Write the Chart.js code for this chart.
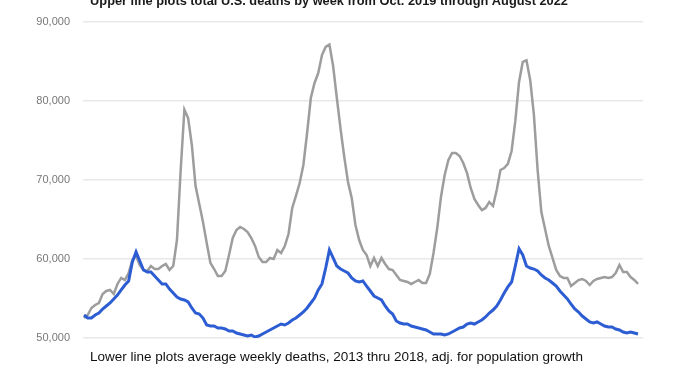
<!DOCTYPE html>
<html>
<head>
<meta charset="utf-8">
<title>U.S. weekly deaths</title>
<script src="https://cdn.jsdelivr.net/npm/chart.js@4.4.1/dist/chart.umd.min.js"></script>
<style>
  body { margin: 0; background: #fff; }
  canvas { display: block; }
</style>
</head>
<body>
<canvas id="deaths" width="678" height="381"></canvas>
<script>
// weekly death counts, Oct 2019 - Aug 2022
const topNote = 'Upper line plots total U.S. deaths by week from Oct. 2019 through August 2022';
const bottomNote = 'Lower line plots average weekly deaths, 2013 thru 2018, adj. for population growth';

const yTicks = [50000, 60000, 70000, 80000, 90000];

const totalDeaths = [
  52530, 52910, 53800, 54180, 54430, 55570, 55950, 56080, 55570, 56840,
  57600, 57340, 58230, 59870, 60380, 59240, 58610, 58480, 59110, 58730,
  58730, 59110, 59370, 58610, 59110, 62400, 71270, 78900, 77850, 74430,
  69240, 66960, 64680, 62030, 59490, 58730, 57850, 57850, 58480, 60510,
  62660, 63670, 64050, 63800, 63420, 62660, 61650, 60250, 59620, 59620,
  60130, 60000, 61140, 60760, 61650, 63160, 66460, 67980, 69620, 71900,
  75950, 80380, 82280, 83540, 85820, 86840, 87150, 84430, 80380, 76460,
  72910, 69750, 67720, 64300, 62400, 61140, 60510, 59110, 60130, 59110,
  60130, 59370, 58730, 58610, 57980, 57340, 57220, 57090, 56840, 57090,
  57340, 56960, 56960, 58100, 60760, 63920, 67850, 70630, 72530, 73420,
  73420, 73040, 72150, 70890, 68990, 67600, 66840, 66200, 66460, 67220,
  66710, 68730, 71270, 71520, 72030, 73670, 77470, 82410, 84940, 85150,
  82660, 78230, 71270, 65950, 63800, 61650, 60130, 58610, 57850, 57600,
  57600, 56580, 56960, 57340, 57470, 57220, 56710, 57220, 57470, 57600,
  57720, 57600, 57720, 58230, 59240, 58350, 58350, 57720, 57340, 56840
];

const baselineDeaths = [
  52910, 52530, 52530, 52910, 53160, 53670, 54050, 54430, 54940, 55440,
  56080, 56710, 57220, 59620, 60890, 59750, 58610, 58350, 58350, 57850,
  57340, 56840, 56840, 56200, 55700, 55190, 54940, 54810, 54560, 53800,
  53160, 53040, 52530, 51650, 51520, 51520, 51270, 51270, 51140, 50890,
  50890, 50630, 50510, 50380, 50250, 50380, 50130, 50250, 50510, 50760,
  51010, 51270, 51520, 51770, 51650, 51900, 52280, 52530, 52910, 53290,
  53800, 54430, 55060, 56080, 56840, 58860, 61150, 60130, 59110, 58730,
  58480, 58230, 57600, 57220, 57090, 57220, 56580, 55950, 55320, 55060,
  54810, 54050, 53420, 53040, 52150, 51900, 51770, 51770, 51520, 51390,
  51270, 51140, 51010, 50760, 50510, 50510, 50510, 50380, 50510, 50760,
  51010, 51270, 51390, 51770, 51900, 51770, 52030, 52280, 52660, 53160,
  53540, 54050, 54810, 55700, 56460, 57090, 59110, 61300, 60510, 59110,
  58860, 58730, 58480, 57980, 57600, 57340, 56960, 56580, 55950, 55440,
  54940, 54300, 53670, 53290, 52780, 52410, 52030, 51900, 52030, 51770,
  51520, 51390, 51390, 51140, 51010, 50760, 50630, 50760, 50630, 50510
];

// week number since start of Oct 2019
const weeks = totalDeaths.map((_, i) => i);

const notes = {
  id: 'notes',
  afterDraw(chart) {
    const c = chart.ctx;
    c.save();
    c.fillStyle = '#1a1a1a';
    c.font = 'bold 12.8px "Liberation Sans", Arial, sans-serif';
    c.textAlign = 'center';
    c.textBaseline = 'alphabetic';
    c.fillText(topNote, 329, 5);
    c.fillStyle = '#111';
    c.font = '13.5px "Liberation Sans", Arial, sans-serif';
    c.textAlign = 'left';
    c.textBaseline = 'middle';
    c.fillText(bottomNote, 90, 357);
    c.restore();
  }
};

new Chart(document.getElementById('deaths'), {
  type: 'line',
  data: {
    labels: weeks,
    datasets: [
      {
        label: 'Average 2013-2018',
        data: baselineDeaths,
        borderColor: '#2d5dd2',
        borderWidth: 3,
        pointRadius: 0,
        tension: 0
      },
      {
        label: 'Total deaths',
        data: totalDeaths,
        borderColor: '#9d9d9d',
        borderWidth: 2.5,
        pointRadius: 0,
        tension: 0
      }
    ]
  },
  options: {
    responsive: false,
    animation: false,
    layout: { padding: { top: 22, bottom: 43, right: 35, left: 0 } },
    plugins: {
      legend: { display: false },
      tooltip: { enabled: false }
    },
    scales: {
      x: {
        type: 'linear',
        display: false,
        min: -0.27,
        max: 150.34
      },
      y: {
        min: 50000,
        max: 90000,
        afterFit(scale) { scale.width = 83; },
        afterBuildTicks(scale) { scale.ticks = yTicks.map(v => ({ value: v })); },
        border: { display: false },
        grid: { color: '#e8e8e8', lineWidth: 1.5, drawTicks: false },
        ticks: {
          padding: 13,
          color: '#777777',
          font: { family: '"Liberation Sans", Arial, sans-serif', size: 11 },
          callback: v => v.toLocaleString('en-US')
        }
      }
    }
  },
  plugins: [notes]
});
</script>
</body>
</html>
